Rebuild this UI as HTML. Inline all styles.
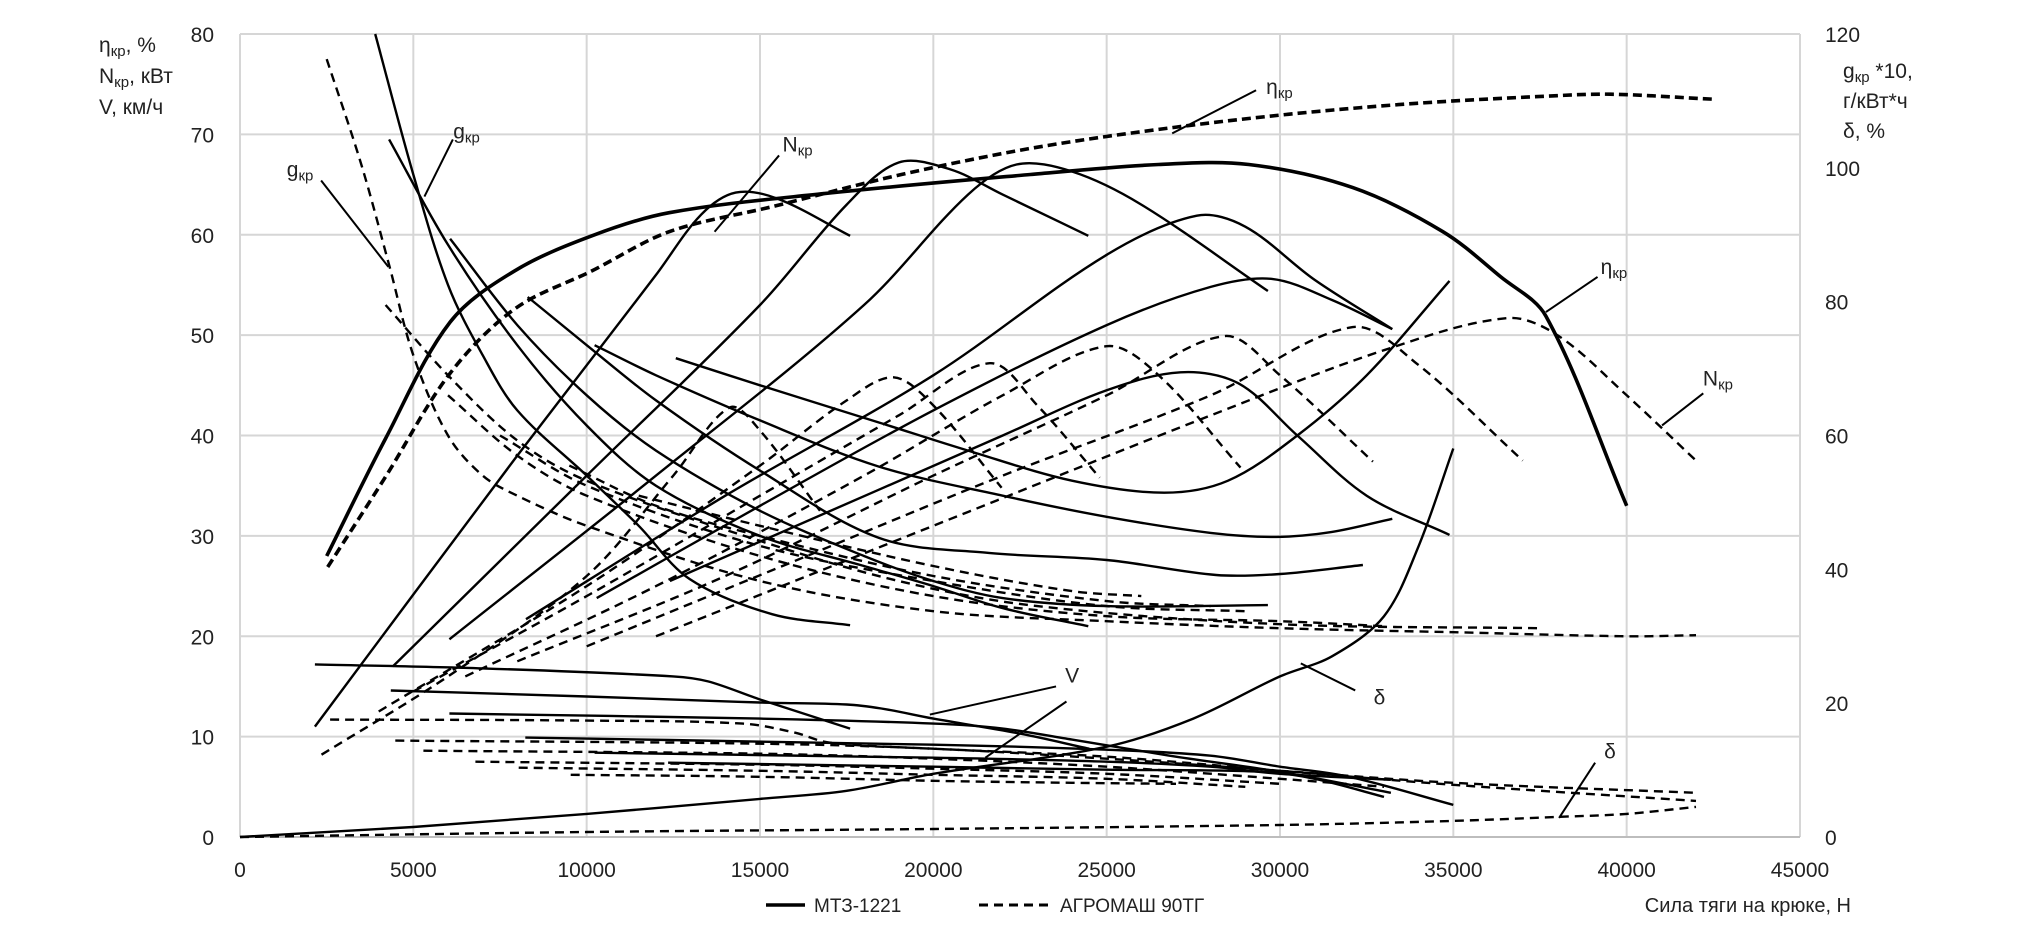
<!DOCTYPE html>
<html><head><meta charset="utf-8"><style>
html,body{margin:0;padding:0;background:#fff}
svg{display:block}
text{font-family:"Liberation Sans","DejaVu Sans",sans-serif;fill:#222}
</style></head><body>
<svg id="chart" width="2020" height="929" viewBox="0 0 2020 929" xmlns="http://www.w3.org/2000/svg">
<g id="grid"></g>
<g id="ticks"></g>
<g id="series"></g>
<g id="annot"></g>
<g font-size="21">
<text x="99" y="52">η<tspan font-size="15" dy="4">кр</tspan><tspan dy="-4">, %</tspan></text>
<text x="99" y="83">N<tspan font-size="15" dy="4">кр</tspan><tspan dy="-4">, кВт</tspan></text>
<text x="99" y="114">V, км/ч</text>
</g>
<g font-size="21">
<text x="1843" y="78">g<tspan font-size="15" dy="4">кр</tspan><tspan dy="-4"> *10,</tspan></text>
<text x="1843" y="108">г/кВт*ч</text>
<text x="1843" y="138">δ, %</text>
</g>
<text x="1851" y="912" font-size="20" text-anchor="end">Сила тяги на крюке, Н</text>
<g>
<line x1="766" y1="905" x2="805" y2="905" stroke="#000" stroke-width="3.5"/>
<text x="814" y="912" font-size="19">МТЗ-1221</text>
<line x1="979" y1="905" x2="1052" y2="905" stroke="#000" stroke-width="3" stroke-dasharray="9,6"/>
<text x="1060" y="912" font-size="19">АГРОМАШ 90ТГ</text>
</g>
</svg>
<script>
const xTicks=[0,5000,10000,15000,20000,25000,30000,35000,40000,45000];
const yTicksLeft=[0,10,20,30,40,50,60,70,80];
const yTicksRight=[0,20,40,60,80,100,120];
// MTZ-1221 (solid)
const etaMtz=[[2500,28],[4200,39.7],[6060,51.3],[7920,56.4],[10150,59.9],[12380,62.2],[16850,64.1],[22800,66],[26500,67],[29100,67],[32100,64.7],[34700,60.3],[36370,55.8],[37670,51.9],[40000,33]];
const nMtz1=[[2160,11],[8000,38],[12000,56],[13300,62],[14300,64.2],[15500,63.6],[17600,59.9]];
const nMtz2=[[4410,17],[10000,36],[15000,53],[17500,63],[19000,67.2],[20500,66.5],[22000,64],[24470,59.9]];
const nMtz3=[[6040,19.7],[12000,36],[18000,53],[21000,64],[22400,67],[24000,66.3],[26000,63],[29650,54.4]];
const nMtz4=[[8250,21.7],[14000,34],[20000,46],[25000,58],[27600,61.9],[29000,60.8],[31000,55.5],[33240,50.6]];
const nMtz5=[[10290,23.8],[15000,33],[20000,42.5],[25000,51],[28000,54.8],[29770,55.6],[31500,53.5],[33240,50.6]];
const nMtz6=[[12400,25.5],[18430,34.6],[22000,40],[25000,44.5],[27130,46.3],[28800,45.2],[30500,40],[32500,34],[34890,30.1]];
const gMtz1=[[3900,80],[5000,66],[6000,55],[7000,48],[8000,42.5],[10000,36],[11500,31],[12970,25.7],[15350,22.2],[17600,21.1]];
const gMtz2=[[4300,69.5],[6000,59],[8000,49],[10000,41],[12000,35],[15000,30],[18000,27],[20000,25],[22000,22.8],[24470,21]];
const gMtz3=[[6060,59.6],[8000,51],[10000,44],[12000,38.5],[15000,32.5],[18000,28],[20000,25.5],[22000,23.8],[25000,23],[29650,23.1]];
const gMtz4=[[8300,53.8],[10000,49],[12000,43.5],[15000,36.5],[18430,29.8],[21600,28.3],[25000,27.6],[28160,26.1],[30000,26.2],[32390,27.1]];
const gMtz5=[[10230,49],[12000,46],[15000,41.5],[18430,36.9],[22000,34],[25000,31.9],[28000,30.3],[29890,29.9],[31500,30.4],[33240,31.7]];
const gMtz6=[[12570,47.7],[15000,45],[18430,41.3],[21000,38.5],[24000,35.5],[26660,34.3],[28500,35.5],[30500,40],[32500,46],[34890,55.4]];
const vMtz1=[[2160,17.2],[7000,16.8],[12500,16],[13500,15.5],[15000,13.7],[17600,10.8]];
const vMtz2=[[4350,14.6],[10000,14],[15000,13.4],[17500,13.2],[18500,12.8],[20000,11.8],[22500,10.3],[24500,8.8]];
const vMtz3=[[6040,12.3],[15000,11.8],[20000,11.3],[22000,10.8],[24000,9.7],[27000,8],[30000,6.5],[33200,4.4]];
const vMtz4=[[8230,9.9],[20000,9.2],[25000,8.7],[28000,8.1],[30000,7],[32000,6],[35000,3.2]];
const vMtz5=[[10230,8.4],[20000,7.9],[25000,7.5],[28000,7],[30000,6.3],[33200,5.7]];
const vMtz6=[[12350,7.4],[20000,7],[25000,6.7],[29500,6.5],[31000,5.8],[33000,4]];
const deltaMtz=[[0,0],[5000,1],[10000,2.3],[15000,3.8],[17500,4.6],[20000,6.3],[25000,9],[27500,11.8],[30000,16],[31500,18],[33000,22],[34000,29],[35000,38.7]];
// AGROMASH 90TG (dashed)
const etaAgr=[[2529,26.9],[4200,35.9],[6060,46.2],[7920,52.6],[10150,56.4],[12380,60.3],[15360,62.8],[19080,66],[22800,68.6],[26500,70.5],[30230,72],[33950,73.1],[37670,73.8],[39530,74],[42500,73.5]];
const nAgr1=[[2350,8.2],[6000,16],[10000,26],[12500,36],[14130,42.8],[15000,40.5],[16730,32.5]];
const nAgr2=[[4000,12.5],[10000,25],[15000,37],[17500,43.5],[18850,45.8],[20000,43],[21970,34.8]];
const nAgr3=[[5000,14.5],[10000,24],[15000,34],[19000,42],[21630,47.2],[23000,43],[24800,35.8]];
const nAgr4=[[6500,16],[12000,25],[18000,36],[22000,44],[25000,48.9],[26500,46],[28860,36.8]];
const nAgr5=[[8000,17.5],[14000,26],[20000,36],[25000,44],[28390,49.9],[30000,46],[32680,37.4]];
const nAgr6=[[10000,19],[16000,27.5],[22000,36],[28000,44],[32100,50.8],[34000,47],[37000,37.5]];
const nAgr7=[[12000,20],[20000,31],[28000,42],[33000,48.5],[36560,51.7],[38000,50],[40000,44],[42000,37.5]];
const gAgr1=[[2500,77.5],[3500,67],[4300,57],[5000,48],[6000,40],[7000,36],[8000,34],[10000,31],[15000,25.5],[20000,22.5],[25000,21.5],[30000,20.8],[35000,20.4],[40000,20],[42000,20.1]];
const gAgr2=[[4200,53],[6000,46],[8000,39.5],[10000,35.5],[15000,29.5],[19000,25.5],[23000,23],[30000,21.2],[37500,20.8]];
const gAgr3=[[6000,44],[8000,38],[10000,34],[15000,28],[20000,24],[25000,22],[30000,21.5],[33000,21]];
const gAgr4=[[7500,40],[10000,35],[15000,29],[20000,25.5],[25000,23],[29000,22.5]];
const gAgr5=[[9500,37],[12000,33],[15000,30],[20000,26],[25000,23.5],[28000,23]];
const gAgr6=[[11500,34],[15000,31],[20000,27],[24000,24.5],[26000,24]];
const vAgr1=[[2600,11.7],[10000,11.6],[14500,11.3],[16000,10.4],[17000,9.4],[20000,8.8],[25000,8],[30000,6.6],[35000,5.2],[42000,3.6]];
const vAgr2=[[4480,9.6],[15000,9.3],[20000,8.8],[25000,7.8],[30000,6.6],[35000,5.4],[42000,4.4]];
const vAgr3=[[5290,8.6],[15000,8.3],[20000,7.8],[25000,7],[30000,5.8],[33000,5]];
const vAgr4=[[6790,7.5],[15000,7.2],[20000,6.8],[25000,6.3],[30000,5.3]];
const vAgr5=[[8040,6.9],[15000,6.6],[20000,6.2],[25000,5.8],[29000,5]];
const vAgr6=[[9540,6.2],[15000,6],[20000,5.6],[24000,5.4],[27000,5.3]];
const deltaAgr=[[0,0],[10000,0.5],[20000,0.8],[30000,1.2],[35000,1.6],[38000,2],[40000,2.3],[42000,3]];

const X0=240,X1=1800,Y0=837,YT=34,XMAX=45000,YMAX=80;
function sx(v){return X0+(v/XMAX)*(X1-X0);}
function sy(v){return Y0-(v/YMAX)*(Y0-YT);}
const NS='http://www.w3.org/2000/svg';
function mk(tag,attrs,parent){const e=document.createElementNS(NS,tag);for(const k in attrs)e.setAttribute(k,attrs[k]);parent.appendChild(e);return e;}
function dist(a,b){return Math.hypot(b[0]-a[0],b[1]-a[1]);}
function pathD(pts){
  const p=pts.map(q=>[sx(q[0]),sy(q[1])]);
  const n=p.length;
  const tan=p.map((b,i)=>{
    const a=p[Math.max(0,i-1)],c=p[Math.min(n-1,i+1)];
    const L=dist(a,b)+dist(b,c)||1;
    return [(c[0]-a[0])/L,(c[1]-a[1])/L];
  });
  let d='M'+p[0][0].toFixed(1)+','+p[0][1].toFixed(1);
  for(let i=0;i<n-1;i++){
    const b=p[i],c=p[i+1],s=dist(b,c)/3;
    const c1=[b[0]+tan[i][0]*s,b[1]+tan[i][1]*s],c2=[c[0]-tan[i+1][0]*s,c[1]-tan[i+1][1]*s];
    d+=' C'+c1[0].toFixed(1)+','+c1[1].toFixed(1)+' '+c2[0].toFixed(1)+','+c2[1].toFixed(1)+' '+c[0].toFixed(1)+','+c[1].toFixed(1);
  }
  return d;
}
const grid=document.getElementById('grid'),ticks=document.getElementById('ticks'),series=document.getElementById('series'),annot=document.getElementById('annot');
xTicks.forEach(v=>{
  const l=mk('line',{x1:sx(v),x2:sx(v),y1:sy(0),y2:sy(YMAX),stroke:'#d6d6d6','stroke-width':2},grid);
  
  
  const t=mk('text',{x:sx(v),y:877,'font-size':21,'text-anchor':'middle'},ticks);
  t.textContent=v;
  
  
});
yTicksLeft.forEach(v=>{
  const l=mk('line',{x1:sx(0),x2:sx(XMAX),y1:sy(v),y2:sy(v),stroke:v===0?'#bdbdbd':'#d6d6d6','stroke-width':2},grid);
  
  
  const t=mk('text',{x:214,y:sy(v)+8,'font-size':21,'text-anchor':'end'},ticks);
  t.textContent=v;
  
  
});
yTicksRight.forEach(v=>{
  const t=mk('text',{x:1825,y:sy(v*YMAX/120)+8,'font-size':21},ticks);
  t.textContent=v;
  
  
});
function draw(pts,name,dashed,w){
  const a={d:pathD(pts),fill:'none',stroke:'#000','stroke-width':w,'stroke-linejoin':'round'};
  if(dashed)a['stroke-dasharray']=dashed;
  const p=mk('path',a,series);
  
  
}
const solidThin=[[nMtz1,'n-mtz-1'],[nMtz2,'n-mtz-2'],[nMtz3,'n-mtz-3'],[nMtz4,'n-mtz-4'],[nMtz5,'n-mtz-5'],[nMtz6,'n-mtz-6'],[gMtz1,'g-mtz-1'],[gMtz2,'g-mtz-2'],[gMtz3,'g-mtz-3'],[gMtz4,'g-mtz-4'],[gMtz5,'g-mtz-5'],[gMtz6,'g-mtz-6'],[vMtz1,'v-mtz-1'],[vMtz2,'v-mtz-2'],[vMtz3,'v-mtz-3'],[vMtz4,'v-mtz-4'],[vMtz5,'v-mtz-5'],[vMtz6,'v-mtz-6'],[deltaMtz,'delta-mtz']];
const dashedThin=[[nAgr1,'n-agr-1'],[nAgr2,'n-agr-2'],[nAgr3,'n-agr-3'],[nAgr4,'n-agr-4'],[nAgr5,'n-agr-5'],[nAgr6,'n-agr-6'],[nAgr7,'n-agr-7'],[gAgr1,'g-agr-1'],[gAgr2,'g-agr-2'],[gAgr3,'g-agr-3'],[gAgr4,'g-agr-4'],[gAgr5,'g-agr-5'],[gAgr6,'g-agr-6'],[vAgr1,'v-agr-1'],[vAgr2,'v-agr-2'],[vAgr3,'v-agr-3'],[vAgr4,'v-agr-4'],[vAgr5,'v-agr-5'],[vAgr6,'v-agr-6'],[deltaAgr,'delta-agr']];
solidThin.forEach(s=>draw(s[0],s[1],null,2.4));
dashedThin.forEach(s=>draw(s[0],s[1],'9,6',2.4));
draw(etaMtz,'eta-mtz',null,3.6);
draw(etaAgr,'eta-agr','9,5',3.6);

const leaders=[[[26890,70.1],[29310,74.4]],[[5320,63.8],[6140,69.5]],[[2340,65.4],[4280,56.8]],[[15550,67.9],[13690,60.3]],[[39160,55.8],[37670,52.3]],[[42210,44.2],[41020,41]],[[23540,15.0],[19900,12.2]],[[23840,13.5],[21500,7.9]],[[32170,14.6],[30600,17.3]],[[39090,7.4],[38050,1.9]]];
const labels=[[29600,74.0,'η','кр'],[6150,69.6,'g','кр'],[1350,65.8,'g','кр'],[15650,68.3,'N','кр'],[39250,56.1,'η','кр'],[42200,45.0,'N','кр'],[23800,15.4,'V',''],[32700,13.2,'δ',''],[39350,7.8,'δ','']];
leaders.forEach(l=>{
  const e=mk('line',{x1:sx(l[0][0]),y1:sy(l[0][1]),x2:sx(l[1][0]),y2:sy(l[1][1]),stroke:'#000','stroke-width':2},annot);
  
  
});
labels.forEach(l=>{
  const t=mk('text',{x:sx(l[0]),y:sy(l[1]),'font-size':21},annot);
  t.textContent=l[2];
  if(l[3]){const s=mk('tspan',{'font-size':15,dy:4},t);s.textContent=l[3];}
  
  
});
</script>
</body></html>
